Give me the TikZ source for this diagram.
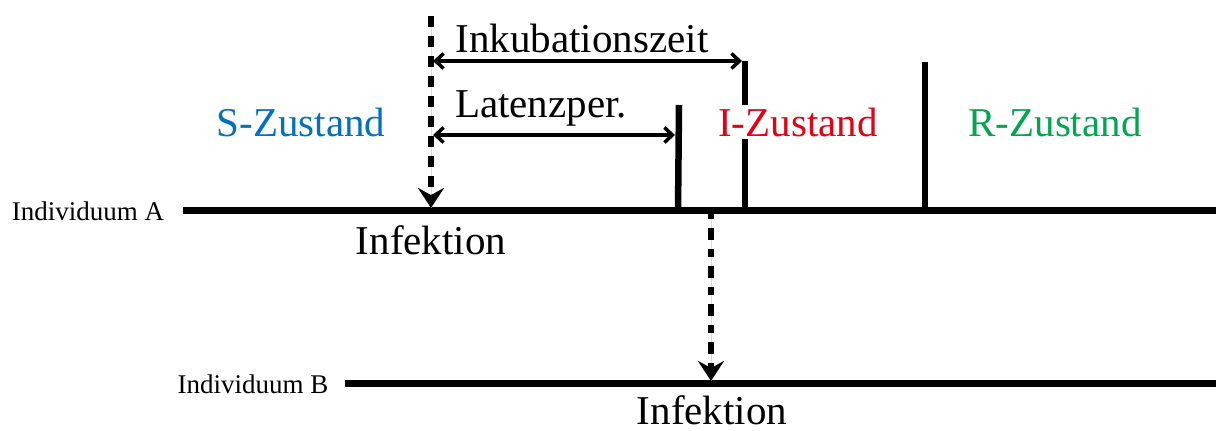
\documentclass[tikz,border=0pt]{standalone}
\usepackage{fontspec}
\setmainfont{Liberation Serif}
\usetikzlibrary{arrows.meta}
\definecolor{sblue}{RGB}{0,112,192}
\definecolor{ired}{RGB}{230,0,18}
\definecolor{rgreen}{RGB}{0,166,80}
\tikzset{
  axisline/.style={line width=7pt},
  bar/.style={line width=6.5pt},
  dashedarrow/.style={line width=6pt, dash pattern=on 11pt off 9pt, -{Stealth[length=20pt,width=26pt,inset=7pt]}},
  guide/.style={line width=0.8pt, draw=black!15},
  dimarrow/.style={line width=3.5pt, {Straight Barb[length=8pt,width=15pt]}-{Straight Barb[length=8pt,width=15pt]}},
  big/.style={font=\fontsize{41}{43}\selectfont, inner sep=0pt},
  small/.style={font=\fontsize{27}{29}\selectfont, inner sep=0pt},
}
\begin{document}
\begin{tikzpicture}[x=1pt,y=-1pt]
\useasboundingbox (0,0) rectangle (1216,431);
% individual timelines
\node[small] (labA) at (88,211) {Individuum A};
\node[small] (labB) at (253,384) {Individuum B};
\coordinate (A0) at (183,210);
\coordinate (A1) at (1216,210);
\coordinate (B0) at (345,383);
\coordinate (B1) at (1216,383);
\draw[axisline] (A0) -- (A1);
\draw[axisline] (B0) -- (B1);
% infection of A
\coordinate (inftop) at (431,16);
\coordinate (infA) at (431,208);
\draw[guide] (inftop) -- (infA);
\draw[dashedarrow] (inftop) -- (infA);
\node[big] (infAlab) at (431,240) {Infektion};
% state bars
\coordinate (latTop) at (679,105);
\coordinate (latBot) at (678,212);
\coordinate (inkTop) at (745,61);
\coordinate (inkBot) at (745,212);
\coordinate (recTop) at (925,62);
\coordinate (recBot) at (925,212);
\draw[bar] (latTop) -- (latBot);
\draw[bar] (inkTop) -- (inkBot);
\draw[bar] (recTop) -- (recBot);
% state labels
\node[big, text=sblue] (S) at (301,122) {S-Zustand};
\node[big, text=ired, fill=white, inner sep=3pt] (I) at (798,122) {I-Zustand};
\node[big, text=rgreen] (R) at (1055,122) {R-Zustand};
% dimension arrows
\coordinate (inkL) at (433,61);
\coordinate (inkR) at (742,61);
\coordinate (latL) at (433,135);
\coordinate (latR) at (675,135);
\draw[dimarrow] (inkL) -- (inkR);
\draw[dimarrow] (latL) -- (latR);
\node[big] (inklab) at (582,38) {Inkubationszeit};
\node[big] (latlab) at (541,108) {Latenzper.};
% transmission to B
\coordinate (tA) at (711,211);
\coordinate (tB) at (711,381);
\draw[guide] (tA) -- (tB);
\draw[dashedarrow, dash pattern=on 8pt off 9pt on 12pt off 9pt] (tA) -- (tB);
\node[big] (infBlab) at (712,410) {Infektion};
\end{tikzpicture}
\end{document}
